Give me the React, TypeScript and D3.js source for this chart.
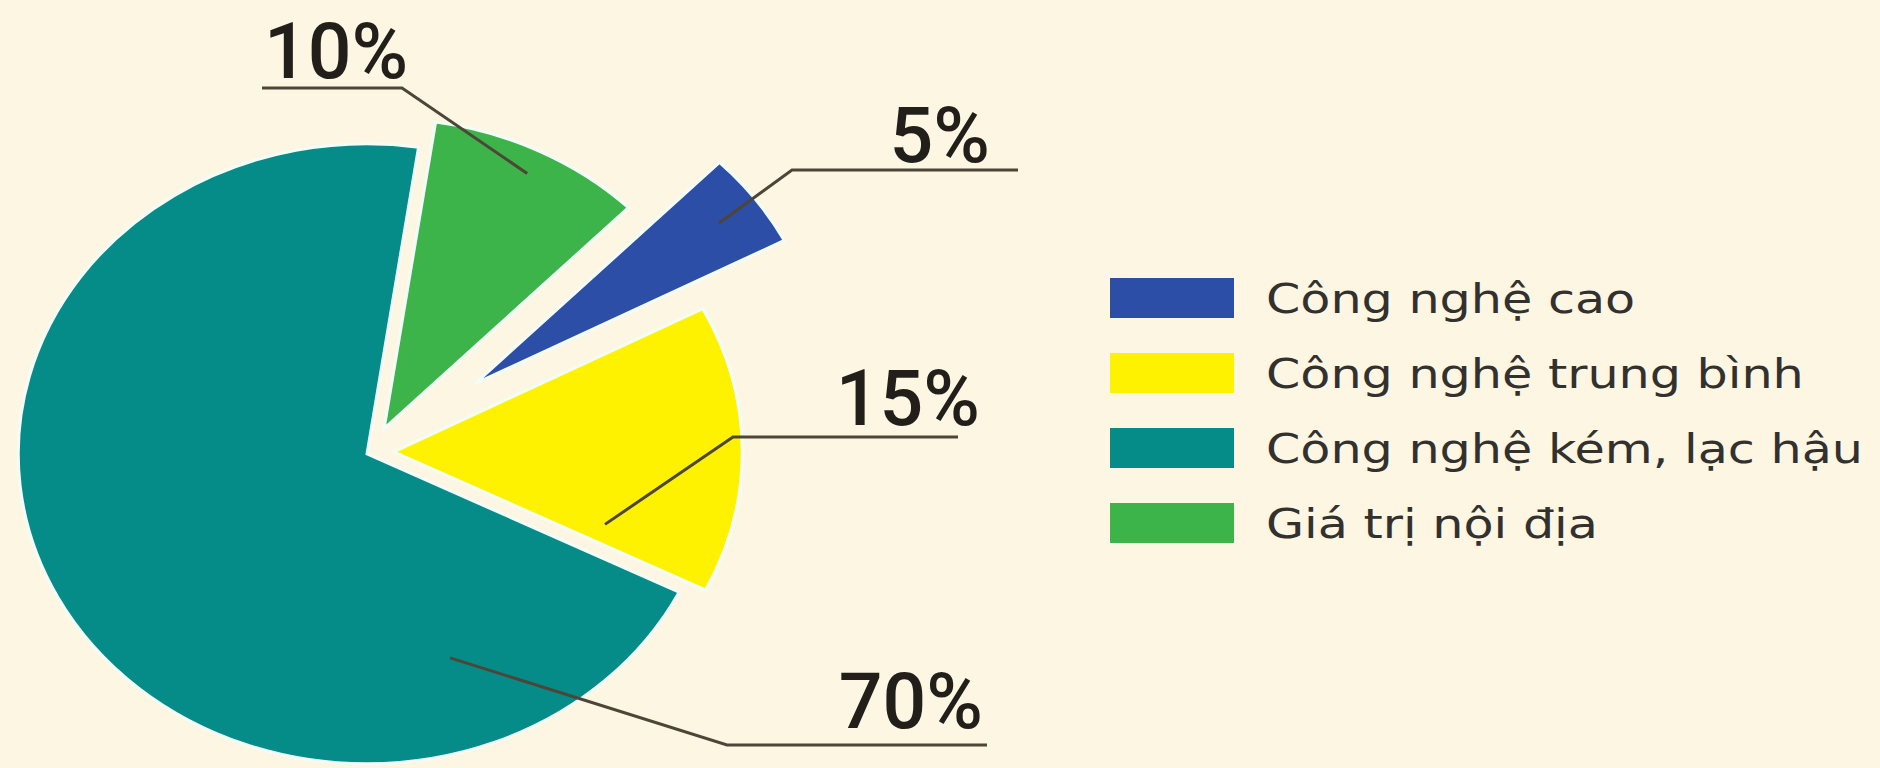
import React, { useEffect, useRef } from "react";
import * as d3 from "d3";

// data
const categories = [
  "Công nghệ cao",
  "Công nghệ trung bình",
  "Công nghệ kém, lạc hậu",
  "Giá trị nội địa",
];
const shares = [5, 15, 70, 10];
const sliceColors = ["#2d4ea6", "#fff200", "#058c89", "#3cb44a"];
const percentLabels = ["5%", "15%", "70%", "10%"];

const W = 1880;
const H = 768;
const cx = 371;
const cy = 452;
const R = 310;
const xStretch = 1.125; // the picture is wider than tall
const startDeg = 44.5;

// how far each slice is pulled out of the pie
const explode = [115, 20, 4, 26];

// leader anchor (fraction across slice, fraction of radius), elbow, line end, label
const labelLayout = [
  { t: 0.5, r: 0.87, elbow: [792, 170], end: 1018, tx: 990, ty: 162, anchor: "end" },
  { t: 0.9, r: 0.65, elbow: [733, 437], end: 958, tx: 980, ty: 425, anchor: "end" },
  { t: 0.173, r: 0.7, elbow: [727, 745], end: 987, tx: 983, ty: 728, anchor: "end" },
  { t: 0.5, r: 0.92, elbow: [402, 88], end: 262, tx: 264, ty: 78, anchor: "start" },
];

const App: React.FC = () => {
  const ref = useRef<SVGSVGElement | null>(null);

  useEffect(() => {
    document.body.style.margin = "0";
    const svg = d3.select(ref.current);
    svg.selectAll("*").remove();

    svg.append("rect").attr("width", W).attr("height", H).attr("fill", "#fdf6e3");

    const start = (startDeg * Math.PI) / 180;
    const pie = d3
      .pie<number>()
      .sort(null)
      .value((d) => d)
      .startAngle(start)
      .endAngle(start + 2 * Math.PI);
    const arcs = pie(shares);
    const arc = d3.arc<d3.PieArcDatum<number>>().innerRadius(0).outerRadius(R);

    const offsetOf = (i: number) => {
      const a = (arcs[i].startAngle + arcs[i].endAngle) / 2;
      return [explode[i] * Math.sin(a), -explode[i] * Math.cos(a)];
    };

    const pieG = svg
      .append("g")
      .attr("transform", `translate(${cx},${cy}) scale(${xStretch},1)`);

    pieG
      .selectAll("path")
      .data(arcs)
      .enter()
      .append("path")
      .attr("transform", (_, i) => {
        const [ox, oy] = offsetOf(i);
        return `translate(${ox},${oy})`;
      })
      .attr("d", arc)
      .attr("fill", (_, i) => sliceColors[i])
      .attr("stroke", "#f3fdf8")
      .attr("stroke-width", 3)
      .attr("vector-effect", "non-scaling-stroke");

    // leaders + percent labels
    const labels = svg.append("g");
    arcs.forEach((d, i) => {
      const L = labelLayout[i];
      const a = d.startAngle + (d.endAngle - d.startAngle) * L.t;
      const [ox, oy] = offsetOf(i);
      const px = cx + (ox + L.r * R * Math.sin(a)) * xStretch;
      const py = cy + oy - L.r * R * Math.cos(a);
      const pts: [number, number][] = [
        [px, py],
        [L.elbow[0], L.elbow[1]],
        [L.end, L.elbow[1]],
      ];
      labels
        .append("path")
        .attr("d", d3.line()(pts))
        .attr("fill", "none")
        .attr("stroke", "#4d4638")
        .attr("stroke-width", 3);
      labels
        .append("text")
        .attr("x", L.tx)
        .attr("y", L.ty)
        .attr("text-anchor", L.anchor)
        .attr("font-family", "Roboto, sans-serif")
        .attr("font-weight", 500)
        .attr("font-size", 77)
        .attr("fill", "#221e1a")
        .text(percentLabels[i]);
    });

    // legend
    const legend = svg.append("g").attr("transform", "translate(1110,278)");
    const y = d3
      .scaleBand<string>()
      .domain(categories)
      .range([0, 4 * 75]);
    const item = legend
      .selectAll("g")
      .data(categories)
      .enter()
      .append("g")
      .attr("transform", (d) => `translate(0,${y(d)})`);
    item
      .append("rect")
      .attr("width", 124)
      .attr("height", 40)
      .attr("fill", (_, i) => sliceColors[i]);
    item
      .append("text")
      .attr("transform", "translate(156,35) scale(1.2,1)")
      .attr("font-family", "'DejaVu Sans', sans-serif")
      .attr("font-size", 41)
      .attr("fill", "#33312e")
      .text((d) => d);
  }, []);

  return (
    <svg
      ref={ref}
      width={W}
      height={H}
      style={{ position: "absolute", left: 0, top: 0, display: "block" }}
    />
  );
};

export default App;
